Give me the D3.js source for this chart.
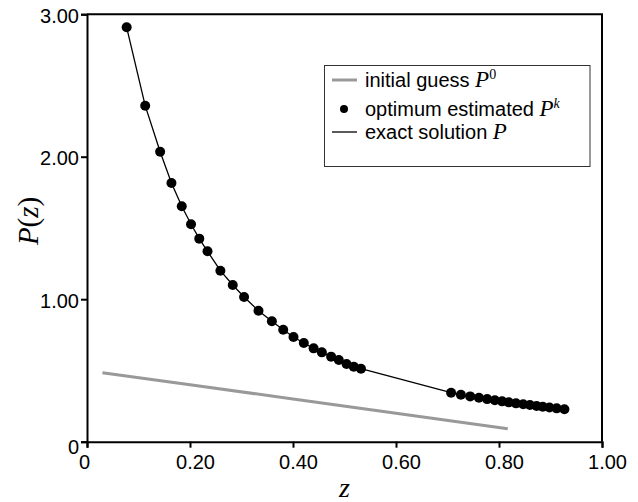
<!DOCTYPE html>
<html>
<head>
<meta charset="utf-8">
<script src="https://cdn.jsdelivr.net/npm/d3@7"></script>
<style>
  body { margin: 0; background: #fff; }
  .tick text { font-family: "Liberation Sans", Arial, sans-serif; font-size: 20px; fill: #000; }
  .legend text { font-family: "Liberation Sans", Arial, sans-serif; font-size: 20px; fill: #000; }
  .serif { font-family: "Liberation Serif", "Times New Roman", serif; font-style: italic; }
</style>
</head>
<body>
<div id="chart"></div>
<script>
// x tick values and y tick values
const xTicks = [0, 0.2, 0.4, 0.6, 0.8, 1.0]
const yTicks = [0, 1, 2, 3]

// initial guess P0 (grey line)
const guessZ = [0.03, 0.2, 0.4, 0.6, 0.817]
const guessP = [0.484, 0.399, 0.300, 0.200, 0.091]

// optimum estimated Pk (dots); the exact solution is drawn through the same z
const estZ = [0.077, 0.113, 0.142, 0.164, 0.184, 0.202, 0.218, 0.234, 0.259, 0.283, 0.305, 0.333,
    0.359, 0.381, 0.401, 0.421, 0.440, 0.456, 0.474, 0.489, 0.504, 0.518, 0.532,
    0.707, 0.726, 0.744, 0.761, 0.777, 0.792, 0.806, 0.819, 0.833, 0.847, 0.860, 0.873, 0.885, 0.898, 0.912, 0.927]
const estP = [2.908, 2.358, 2.035, 1.815, 1.652, 1.526, 1.425, 1.336, 1.200, 1.100, 1.015, 0.919,
    0.845, 0.786, 0.735, 0.693, 0.655, 0.627, 0.597, 0.573, 0.545, 0.526, 0.512,
    0.344, 0.330, 0.318, 0.308, 0.299, 0.291, 0.283, 0.276, 0.269, 0.263, 0.257, 0.251, 0.245, 0.240, 0.234, 0.228]

const exactZ = estZ
const exactP = estP

const width = 638, height = 502
const margin = {top: 14.2, right: 36, bottom: 60.3, left: 87}

const svg = d3.select('#chart')
    .append('svg')
    .attr('width', width)
    .attr('height', height)

const x = d3.scaleLinear().domain([0, 1]).range([margin.left, width - margin.right])
const y = d3.scaleLinear().domain([0, 3]).range([height - margin.bottom, margin.top])

const guess = guessZ.map((z, i) => ({z: z, p: guessP[i]}))
const est = estZ.map((z, i) => ({z: z, p: estP[i]}))
const exact = exactZ.map((z, i) => ({z: z, p: exactP[i]}))

const line = d3.line().x(d => x(d.z)).y(d => y(d.p))

// top and right frame
svg.append('path')
    .attr('d', `M${x(0)},${y(3)}H${x(1)}V${y(0)}`)
    .attr('fill', 'none')
    .attr('stroke', '#000')
    .attr('stroke-width', 2)

// axes
const xAxis = svg.append('g')
    .attr('transform', `translate(0,${y(0)})`)
    .call(d3.axisBottom(x).tickValues(xTicks).tickSizeOuter(0).tickSize(6)
        .tickFormat(d => d === 0 ? '0' : d.toFixed(2)))
xAxis.select('.domain').attr('stroke-width', 2)
xAxis.selectAll('.tick line').attr('stroke-width', 2)
xAxis.selectAll('.tick text').attr('y', 13).attr('dx', d => d === 0 ? -3 : 5)

const yAxis = svg.append('g')
    .attr('transform', `translate(${x(0)},0)`)
    .call(d3.axisLeft(y).tickValues(yTicks).tickSizeOuter(0).tickSize(6)
        .tickFormat(d => d === 0 ? '0' : d.toFixed(2)))
yAxis.select('.domain').attr('stroke-width', 2)
yAxis.selectAll('.tick line').attr('stroke-width', 2)
yAxis.selectAll('.tick text').attr('x', -8).attr('dy', d => d === 0 ? '0.6em' : '0.4em')

// series
svg.append('path')
    .datum(guess)
    .attr('d', line)
    .attr('fill', 'none')
    .attr('stroke', '#999')
    .attr('stroke-width', 3)

svg.append('path')
    .datum(exact)
    .attr('d', line)
    .attr('fill', 'none')
    .attr('stroke', '#000')
    .attr('stroke-width', 1.3)

svg.selectAll('.dot')
    .data(est)
    .join('circle')
    .attr('class', 'dot')
    .attr('cx', d => x(d.z))
    .attr('cy', d => y(d.p))
    .attr('r', 5)
    .attr('fill', '#000')

// axis titles
svg.append('text')
    .attr('x', (x(0) + x(1)) / 2)
    .attr('y', 497)
    .attr('text-anchor', 'middle')
    .attr('class', 'serif')
    .style('font-size', '28px')
    .text('z')

const yl = svg.append('text')
    .attr('transform', `translate(38,${(y(0) + y(3)) / 2 - 7}) rotate(-90)`)
    .attr('text-anchor', 'middle')
    .style('font-family', '"Liberation Serif", "Times New Roman", serif')
    .style('font-size', '29px')
yl.append('tspan').style('font-style', 'italic').text('P')
yl.append('tspan').text('(')
yl.append('tspan').style('font-style', 'italic').text('z')
yl.append('tspan').text(')')

// legend
const legend = svg.append('g').attr('class', 'legend')
legend.append('rect')
    .attr('x', 324.5).attr('y', 65.5)
    .attr('width', 265.5).attr('height', 101)
    .attr('fill', '#fff')
    .attr('stroke', '#333')
    .attr('stroke-width', 1)

const items = [
    {label: 'initial guess ', sup: '0', type: 'guess', cy: 80},
    {label: 'optimum estimated ', sup: 'k', type: 'dot', cy: 109},
    {label: 'exact solution ', sup: null, type: 'exact', cy: 132}
]
items.forEach(it => {
    if (it.type === 'dot') {
        legend.append('circle').attr('cx', 344).attr('cy', it.cy).attr('r', 4).attr('fill', '#000')
    } else {
        legend.append('line')
            .attr('x1', 332).attr('x2', 357)
            .attr('y1', it.cy).attr('y2', it.cy)
            .attr('stroke', it.type === 'guess' ? '#999' : '#000')
            .attr('stroke-width', it.type === 'guess' ? 3 : 1.3)
    }
    const t = legend.append('text').attr('x', 365).attr('y', it.cy + 7)
    t.append('tspan').text(it.label)
    t.append('tspan')
        .style('font-family', '"Liberation Serif", "Times New Roman", serif')
        .style('font-style', 'italic')
        .style('font-size', '23px')
        .text('P')
    if (it.sup) {
        t.append('tspan')
            .attr('dy', -8)
            .style('font-family', '"Liberation Serif", "Times New Roman", serif')
            .style('font-style', it.sup === 'k' ? 'italic' : 'normal')
            .style('font-size', '14px')
            .text(it.sup)
    }
})
</script>
</body>
</html>
